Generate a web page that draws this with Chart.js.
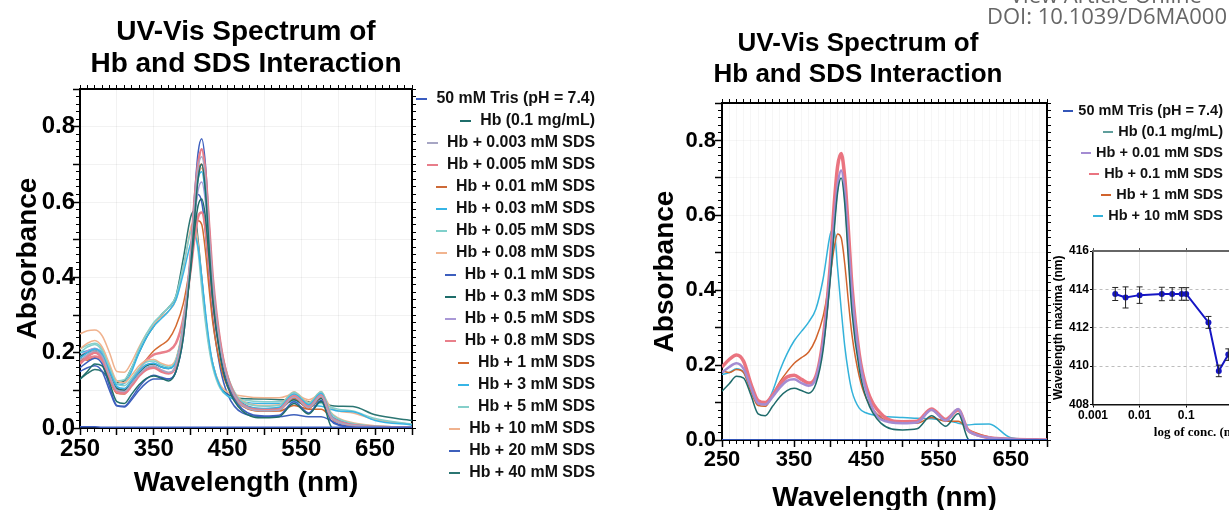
<!DOCTYPE html>
<html>
<head>
<meta charset="utf-8">
<script src="https://cdn.jsdelivr.net/npm/chart.js@4.4.1/dist/chart.umd.min.js"></script>
<style>
  html, body { margin: 0; padding: 0; background: #fff; }
  body { width: 1229px; height: 510px; position: relative; overflow: hidden; font-family: "Liberation Sans", Arial, sans-serif; }
  canvas { position: absolute; }
  .title { position: absolute; width: 420px; text-align: center; font-weight: bold; color: #000; white-space: nowrap; }
  .legend { position: absolute; font-weight: bold; color: #111; text-align: right; }
  .legend div { white-space: nowrap; }
  .legend .mk { display: inline-block; height: 2px; vertical-align: middle; }
  .note { position: absolute; font-family: "Open Sans", sans-serif; font-size: 22px; color: #666; white-space: nowrap; }
</style>
</head>
<body>
<canvas id="left" width="492" height="510" style="left:0;top:0"></canvas>
<canvas id="right" width="436" height="520" style="left:640px;top:0"></canvas>
<canvas id="inset" width="276" height="210" style="left:1040px;top:236px"></canvas>
<div class="title" style="left:36px;top:15px;font-size:28px;line-height:31.5px">UV-Vis Spectrum of<br>Hb and SDS Interaction</div>
<div class="title" style="left:648px;top:27px;font-size:26px;line-height:30.5px">UV-Vis Spectrum of<br>Hb and SDS Interaction</div>
<div id="legendLeft" class="legend" style="left:380px;top:87px;width:215px;font-size:15.9px;line-height:22px"></div>
<div id="legendRight" class="legend" style="left:1000px;top:100px;width:223px;font-size:14.5px;line-height:21px"></div>
<div class="note" style="left:1010px;top:-21px;line-height:30px">View Article Online</div>
<div class="note" style="left:987px;top:0px;line-height:30px">DOI: 10.1039/D6MA000</div>
<script>
// wavelengths (nm) shared by every spectrum
const wavelengths = [250,260,270,280,290,300,310,320,330,340,350,360,370,380,390,400,405,410,415,420,425,430,440,450,470,500,520,540,560,577,590,600,620,650,700]

// left panel: full titration
const leftLabels = ['50 mM Tris (pH = 7.4)','Hb (0.1 mg/mL)','Hb + 0.003 mM SDS','Hb + 0.005 mM SDS','Hb + 0.01 mM SDS','Hb + 0.03 mM SDS','Hb + 0.05 mM SDS','Hb + 0.08 mM SDS','Hb + 0.1 mM SDS','Hb + 0.3 mM SDS','Hb + 0.5 mM SDS','Hb + 0.8 mM SDS','Hb + 1 mM SDS','Hb + 3 mM SDS','Hb + 5 mM SDS','Hb + 10 mM SDS','Hb + 20 mM SDS','Hb + 40 mM SDS']
const leftColors = ['#3a5cc0','#1f6e6b','#a7a6c4','#e87d8a','#cd6a38','#36b4e5','#80d0cb','#f1b48f','#3d5fbe','#1e6d6a','#a998d6','#e9808b','#d46a30','#37b5e6','#85cfca','#f0b28e','#3e60bc','#2b7572']
const leftWidths = [1.5,1.5,1.5,2.5,1.5,1.5,1.5,1.5,1.5,1.5,1.5,2.5,1.5,1.5,1.5,1.5,1.5,1.5]

const absTris = [.003,.003,.003,.002,.002,.002,.002,.002,.002,.002,.002,.002,.002,.002,.002,.002,.002,.002,.002,.002,.002,.002,.002,.002,.002,.002,.002,.002,.002,.002,.002,.002,.002,.002,.002]
const absHb   = [.13,.15,.17,.165,.12,.07,.065,.09,.115,.132,.138,.132,.125,.15,.24,.43,.55,.66,.70,.63,.48,.34,.19,.11,.045,.027,.03,.065,.037,.071,.005,-.01,-.01,-.01,-.01]
const abs0003 = [.18,.195,.205,.19,.14,.1,.097,.118,.142,.16,.165,.155,.148,.168,.27,.46,.59,.69,.72,.66,.52,.39,.22,.13,.06,.046,.048,.082,.054,.084,.03,.016,.007,.003,.001]
const abs0005 = [.17,.19,.2,.185,.135,.095,.092,.112,.138,.155,.16,.15,.145,.165,.26,.46,.6,.7,.74,.68,.54,.4,.23,.135,.062,.048,.05,.085,.056,.086,.03,.017,.008,.003,.001]
const abs001  = [.175,.19,.2,.185,.14,.098,.095,.115,.14,.158,.162,.152,.146,.166,.26,.45,.58,.68,.70,.64,.51,.38,.22,.13,.058,.045,.047,.08,.052,.083,.028,.015,.006,.002,0]
const abs003  = [.185,.2,.21,.195,.15,.11,.105,.125,.15,.168,.172,.162,.158,.175,.27,.45,.57,.66,.68,.62,.5,.37,.22,.135,.065,.052,.055,.09,.062,.092,.035,.02,.009,.004,.001]
const abs005  = [.2,.215,.222,.205,.16,.118,.112,.132,.158,.175,.178,.168,.162,.18,.28,.46,.58,.67,.70,.64,.52,.39,.23,.14,.07,.058,.06,.095,.066,.096,.04,.025,.012,.005,.002]
const abs008  = [.21,.225,.232,.215,.17,.125,.12,.14,.165,.18,.182,.172,.166,.184,.28,.45,.57,.66,.69,.63,.51,.385,.23,.14,.072,.06,.062,.096,.068,.097,.042,.027,.014,.006,.002]
const abs01   = [.16,.175,.185,.17,.11,.06,.058,.08,.108,.13,.14,.135,.13,.15,.25,.46,.61,.73,.768,.70,.54,.39,.21,.12,.05,.032,.034,.07,.04,.074,.02,.008,.003,.001,0]
const abs03   = [.19,.2,.205,.19,.145,.105,.1,.12,.145,.165,.17,.162,.158,.18,.27,.42,.52,.59,.608,.56,.45,.34,.2,.125,.065,.05,.052,.075,.055,.078,.03,.018,.008,.003,.001]
const abs05   = [.19,.205,.212,.196,.15,.108,.104,.124,.15,.168,.172,.163,.158,.178,.27,.44,.55,.63,.653,.6,.48,.36,.21,.13,.065,.05,.053,.085,.058,.088,.032,.018,.008,.003,.001]
const abs08   = [.175,.185,.19,.18,.135,.1,.1,.125,.155,.18,.195,.2,.205,.225,.29,.42,.5,.56,.572,.53,.43,.33,.2,.125,.065,.05,.052,.078,.055,.08,.032,.02,.009,.004,.001]
const abs1    = [.185,.18,.188,.18,.13,.092,.09,.12,.155,.182,.205,.22,.235,.27,.33,.44,.51,.55,.54,.47,.37,.28,.17,.11,.06,.045,.045,.06,.05,.05,.03,.02,.008,.003,0]
const abs3    = [.2,.205,.21,.2,.155,.115,.118,.15,.2,.24,.27,.29,.31,.34,.41,.49,.51,.48,.4,.31,.23,.17,.11,.085,.07,.065,.065,.07,.06,.058,.05,.045,.043,.02,.008]
const abs5    = [.21,.22,.225,.21,.165,.125,.128,.16,.21,.25,.28,.3,.32,.35,.43,.52,.53,.47,.37,.28,.21,.16,.105,.085,.075,.07,.07,.075,.065,.065,.055,.05,.045,.025,.01]
const abs10   = [.25,.258,.26,.245,.2,.15,.148,.175,.215,.25,.275,.295,.31,.34,.42,.53,.55,.49,.39,.3,.22,.17,.115,.095,.085,.08,.08,.09,.075,.09,.055,.045,.04,.022,.01]
const abs20   = [.15,.16,.165,.15,.1,.058,.056,.075,.1,.12,.13,.13,.13,.15,.24,.44,.56,.62,.6,.52,.4,.29,.16,.09,.04,.03,.03,.035,.03,.03,.02,.01,.005,.002,0]
const abs40   = [.13,.145,.155,.15,.13,.12,.125,.16,.2,.24,.27,.3,.32,.35,.45,.56,.577,.5,.4,.3,.22,.17,.11,.09,.078,.077,.075,.075,.07,.068,.06,.058,.057,.035,.02]
const leftSeries = [absTris,absHb,abs0003,abs0005,abs001,abs003,abs005,abs008,abs01,abs03,abs05,abs08,abs1,abs3,abs5,abs10,abs20,abs40]

// right panel: selected concentrations
const rightLabels = ['50 mM Tris (pH = 7.4)','Hb (0.1 mg/mL)','Hb + 0.01 mM SDS','Hb + 0.1 mM SDS','Hb + 1 mM SDS','Hb + 10 mM SDS']
const rightColors = ['#3456b8','#1e6b6b','#a48cd2','#ea7480','#d1632c','#33b2da']
const rightLegendColors = ['#3456b8','#5f9e9c','#a48cd2','#ea7480','#d1632c','#33b2da']
const rightWidths = [1.5,1.5,2.5,3.5,1.5,1.5]
const rTris = [.001,.001,.001,.001,.001,.001,.001,.001,.001,.001,.001,.001,.001,.001,.001,.001,.001,.001,.001,.001,.001,.001,.001,.001,.001,.001,.001,.001,.001,.001,.001,.001,.001,.001,.001]
const rHb   = [.13,.15,.17,.165,.12,.07,.065,.09,.115,.132,.138,.132,.125,.15,.24,.43,.55,.66,.70,.63,.48,.34,.19,.11,.045,.027,.03,.065,.037,.071,.005,-.01,-.01,-.01,-.01]
const r001  = [.18,.195,.205,.19,.14,.098,.095,.115,.14,.158,.162,.152,.145,.165,.26,.45,.58,.68,.72,.66,.52,.39,.22,.13,.055,.045,.047,.08,.052,.083,.027,.015,.006,.002,0]
const r01   = [.195,.215,.227,.21,.15,.105,.1,.12,.148,.168,.173,.162,.152,.17,.27,.47,.62,.73,.765,.7,.56,.41,.23,.14,.07,.049,.05,.083,.055,.08,.028,.016,.006,.002,0]
const r1    = [.185,.18,.188,.18,.13,.092,.09,.12,.155,.182,.205,.22,.235,.27,.33,.44,.51,.55,.54,.47,.37,.28,.17,.11,.06,.045,.045,.06,.05,.05,.03,.02,.008,.003,0]
const r10   = [.175,.18,.19,.18,.135,.096,.095,.13,.185,.23,.265,.29,.315,.35,.43,.55,.565,.46,.35,.25,.18,.13,.085,.072,.064,.06,.058,.057,.052,.045,.04,.042,.043,.006,0]
const rightSeries = [rTris,rHb,r001,r01,r1,r10]

// inset: wavelength of the Soret maximum vs SDS concentration
const shiftConc = [0.003,0.005,0.01,0.03,0.05,0.08,0.1,0.3,0.5,0.8]
const shiftMax  = [413.76,413.58,413.7,413.76,413.76,413.76,413.76,412.28,409.75,410.6]
const shiftErr  = [0.34,0.55,0.43,0.35,0.33,0.33,0.33,0.31,0.3,0.3]

const FAMILY = '"Liberation Sans", Arial, sans-serif'
Chart.defaults.color = '#000'
Chart.defaults.font.family = FAMILY

function font(size, extra) {
    return Object.assign({family: FAMILY, size: size, weight: 'bold'}, extra || {})
}

function spectrumDatasets(series, colors, widths) {
    return series.map((arr, i) => ({
        data: wavelengths.map((w, j) => ({x: w, y: arr[j]})),
        borderColor: colors[i],
        borderWidth: widths[i],
        pointRadius: 0,
        cubicInterpolationMode: 'monotone',
        fill: false
    }))
}

function spectrumScales(c) {
    const onY = v => Math.abs(v * 5 - Math.round(v * 5)) < 1e-6
    return {
        // first defined = innermost, so the long major ticks sit on the frame
        xMaj: {
            type: 'linear', position: 'bottom', min: 250, max: 700,
            ticks: {display: false, stepSize: 50},
            grid: {drawOnChartArea: false, tickLength: 7, tickColor: '#000', tickWidth: 1.5},
            border: {display: false},
            afterFit: s => { s.height = 0 }
        },
        yMaj: {
            type: 'linear', position: 'left', min: 0, max: 0.9,
            ticks: {display: false, stepSize: 0.1},
            grid: {drawOnChartArea: false, tickLength: 7, tickColor: '#000', tickWidth: 1.5},
            border: {display: false},
            afterFit: s => { s.width = 0 }
        },
        x: {
            type: 'linear', position: 'bottom', min: 250, max: 700,
            ticks: {
                stepSize: 10, autoSkip: false, maxRotation: 0, padding: c.xTickPad,
                font: font(c.tickSize), color: '#000',
                callback: v => (v - 250) % 100 === 0 ? String(v) : ''
            },
            grid: {
                color: ctx => ctx.tick && ctx.tick.value % c.gridX === 0 ? c.gridColor : 'rgba(0,0,0,0)',
                tickLength: 4, tickColor: '#000', tickWidth: 1
            },
            border: {display: true, color: '#000', width: 2},
            title: {display: true, text: 'Wavelength (nm)', font: font(28), color: '#000', padding: {top: 0, bottom: c.xTitlePad}},
            afterFit: s => { s.height = c.xHeight }
        },
        y: {
            type: 'linear', position: 'left', min: 0, max: 0.9,
            ticks: {
                stepSize: 0.02, autoSkip: false, padding: c.yTickPad,
                font: font(c.tickSize), color: '#000',
                callback: v => onY(v) ? v.toFixed(1) : ''
            },
            grid: {
                color: ctx => ctx.tick && Math.abs(ctx.tick.value / c.gridY - Math.round(ctx.tick.value / c.gridY)) < 1e-6 ? c.gridColor : 'rgba(0,0,0,0)',
                tickLength: 4, tickColor: '#000', tickWidth: 1
            },
            border: {display: true, color: '#000', width: 2},
            title: {display: true, text: 'Absorbance', font: font(28), color: '#000', padding: {top: c.yTitlePad, bottom: 0}},
            afterFit: s => { s.width = c.yWidth }
        },
        x2: {
            type: 'linear', position: 'top', min: 250, max: 700,
            ticks: {display: false, stepSize: 10},
            grid: {drawOnChartArea: false, tickLength: 4, tickColor: '#000'},
            border: {display: true, color: '#000', width: 2},
            afterFit: s => { s.height = 0 }
        },
        y2: {
            type: 'linear', position: 'right', min: 0, max: 0.9,
            ticks: {display: false, stepSize: 0.02},
            grid: {drawOnChartArea: false, tickLength: 4, tickColor: '#000'},
            border: {display: true, color: '#000', width: 2},
            afterFit: s => { s.width = 0 }
        }
    }
}

function spectrumChart(id, datasets, c) {
    return new Chart(document.getElementById(id), {
        type: 'line',
        data: {datasets: datasets},
        options: {
            responsive: false,
            animation: false,
            events: [],
            layout: {padding: {top: c.padTop, right: c.padRight, bottom: 0, left: 0}},
            scales: spectrumScales(c),
            plugins: {
                legend: {display: false},
                tooltip: {enabled: false}
            }
        }
    })
}

spectrumChart('left', spectrumDatasets(leftSeries, leftColors, leftWidths), {
    padTop: 89, padRight: 80, yWidth: 80, xHeight: 82, tickSize: 24,
    xTickPad: 3, yTickPad: 1, xTitlePad: 10, yTitlePad: 11,
    gridX: 50, gridY: 0.1, gridColor: 'rgba(0,0,0,0.05)'
})

spectrumChart('right', spectrumDatasets(rightSeries, rightColors, rightWidths), {
    padTop: 103, padRight: 29, yWidth: 82, xHeight: 80, tickSize: 22,
    xTickPad: 3, yTickPad: 2, xTitlePad: 5, yTitlePad: 8,
    gridX: 10, gridY: 0.05, gridColor: 'rgba(0,0,0,0.035)'
})

// error bars for the inset, placed through the chart's own scales
const errorBars = {
    id: 'errorBars',
    afterDatasetsDraw(chart) {
        const {ctx, scales} = chart
        const x = scales.x, y = scales.y
        ctx.save()
        ctx.strokeStyle = '#222'
        ctx.lineWidth = 1
        shiftConc.forEach((cval, i) => {
            const px = x.getPixelForValue(cval)
            const top = y.getPixelForValue(shiftMax[i] + shiftErr[i])
            const bot = y.getPixelForValue(shiftMax[i] - shiftErr[i])
            ctx.beginPath()
            ctx.moveTo(px, top); ctx.lineTo(px, bot)
            ctx.moveTo(px - 3, top); ctx.lineTo(px + 3, top)
            ctx.moveTo(px - 3, bot); ctx.lineTo(px + 3, bot)
            ctx.stroke()
        })
        ctx.restore()
    }
}

const isDecade = v => Math.abs(Math.log10(v) - Math.round(Math.log10(v))) < 1e-9

new Chart(document.getElementById('inset'), {
    type: 'line',
    data: {
        datasets: [{
            data: shiftConc.map((cval, i) => ({x: cval, y: shiftMax[i]})),
            borderColor: '#1515c4',
            backgroundColor: '#1515c4',
            borderWidth: 2,
            pointRadius: 3,
            pointBorderWidth: 0,
            tension: 0
        }]
    },
    options: {
        responsive: false,
        animation: false,
        events: [],
        layout: {padding: {top: 15, right: 0, bottom: 0, left: 0}},
        scales: {
            x: {
                type: 'logarithmic', position: 'bottom', min: 0.001, max: 50,
                ticks: {
                    autoSkip: false, maxRotation: 0, padding: 1, font: font(12), color: '#000',
                    callback: v => isDecade(v) ? String(Number(v.toPrecision(1))) : ''
                },
                grid: {
                    color: ctx => ctx.tick && isDecade(ctx.tick.value) ? '#e4e4e4' : 'rgba(0,0,0,0)',
                    tickColor: ctx => ctx.tick && isDecade(ctx.tick.value) ? '#000' : 'rgba(0,0,0,0)',
                    tickLength: 3
                },
                border: {display: true, color: '#111', width: 1.5},
                title: {
                    display: true, text: 'log of conc. (mM)', color: '#000',
                    font: {family: '"Liberation Serif", "Times New Roman", serif', size: 13, weight: 'bold'},
                    padding: {top: 0, bottom: 6}
                },
                afterFit: s => { s.height = 41.5 }
            },
            y: {
                type: 'linear', position: 'left', min: 408, max: 416,
                ticks: {stepSize: 2, padding: 1, font: font(12), color: '#000'},
                grid: {
                    color: ctx => ctx.tick && (ctx.tick.value === 408 || ctx.tick.value === 416) ? 'rgba(0,0,0,0)' : '#bdbdbd',
                    tickLength: 3, tickColor: '#000'
                },
                border: {display: true, color: '#111', width: 1.5, dash: [3, 3]},
                title: {display: true, text: 'Wavelength maxima (nm)', font: font(12), color: '#000', padding: {top: 11, bottom: 0}},
                afterFit: s => { s.width = 53 }
            },
            x2: {
                type: 'logarithmic', position: 'top', min: 0.001, max: 50,
                ticks: {display: false},
                grid: {
                    drawOnChartArea: false,
                    tickColor: ctx => ctx.tick && isDecade(ctx.tick.value) ? '#555' : 'rgba(0,0,0,0)',
                    tickLength: 3
                },
                border: {display: true, color: '#666', width: 2},
                afterFit: s => { s.height = 0 }
            }
        },
        plugins: {legend: {display: false}, tooltip: {enabled: false}}
    },
    plugins: [errorBars]
})

function buildLegend(el, labels, colors, mkWidth, gap) {
    labels.forEach((text, i) => {
        const row = document.createElement('div')
        const mk = document.createElement('span')
        mk.className = 'mk'
        mk.style.width = mkWidth + 'px'
        mk.style.marginRight = gap + 'px'
        mk.style.background = colors[i]
        row.appendChild(mk)
        row.appendChild(document.createTextNode(text))
        el.appendChild(row)
    })
}

buildLegend(document.getElementById('legendLeft'), leftLabels, leftColors, 11, 9)
buildLegend(document.getElementById('legendRight'), rightLabels, rightLegendColors, 10, 5)
</script>
</body>
</html>
